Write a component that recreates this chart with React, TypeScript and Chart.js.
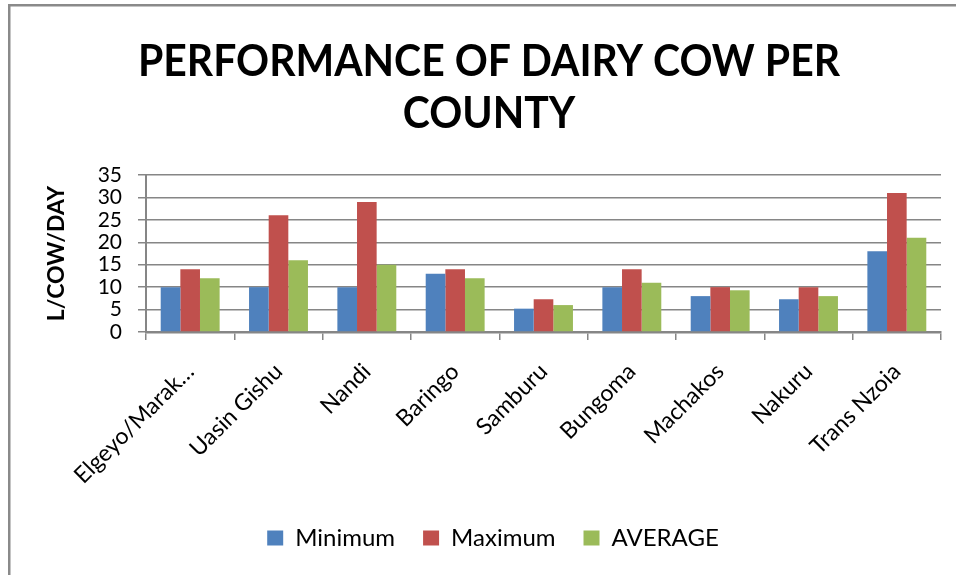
import React, { useEffect, useRef } from "react";
import { Chart, registerables } from "chart.js";

Chart.register(...registerables);

const categories = [
  "Elgeyo/Marak…",
  "Uasin Gishu",
  "Nandi",
  "Baringo",
  "Samburu",
  "Bungoma",
  "Machakos",
  "Nakuru",
  "Trans Nzoia",
];
const minimumValues = [10, 10, 10, 13, 5.2, 10, 8, 7.3, 18];
const maximumValues = [14, 26, 29, 14, 7.3, 14, 10, 10, 31];
const averageValues = [12, 16, 15, 12, 6, 11, 9.3, 8, 21];
const seriesNames = ["Minimum", "Maximum", "AVERAGE"];
const titleLines = ["PERFORMANCE OF DAIRY COW PER", "COUNTY"];
const yAxisTitle = "L/COW/DAY";
const yTicks = [0, 5, 10, 15, 20, 25, 30, 35];

const FONT = "Lato, 'Open Sans', sans-serif";
const GRID = "#868686";

const framePlugin = {
  id: "frameAndTitle",
  beforeDraw(chart: any) {
    const ctx = chart.ctx as CanvasRenderingContext2D;
    ctx.save();
    ctx.fillStyle = "#ffffff";
    ctx.fillRect(0, 0, chart.width, chart.height);
    ctx.strokeStyle = "#8a8a8a";
    ctx.lineWidth = 2.5;
    ctx.beginPath();
    ctx.moveTo(9.25, chart.height);
    ctx.lineTo(9.25, 5.25);
    ctx.lineTo(chart.width, 5.25);
    ctx.stroke();
    ctx.restore();
  },
  afterDraw(chart: any) {
    const ctx = chart.ctx as CanvasRenderingContext2D;
    ctx.save();
    ctx.font = `bold 43px ${FONT}`;
    ctx.fillStyle = "#000000";
    ctx.textAlign = "center";
    ctx.textBaseline = "alphabetic";
    const w = ctx.measureText(titleLines[0]).width;
    const sx = 702 / w;
    const baselines = [76, 128];
    titleLines.forEach((line, i) => {
      ctx.save();
      ctx.translate(489, baselines[i]);
      ctx.scale(sx, 1);
      ctx.fillText(line, 0, 0);
      ctx.restore();
    });
    ctx.restore();
  },
};

export default function App() {
  const ref = useRef<HTMLCanvasElement | null>(null);

  useEffect(() => {
    if (!ref.current) return;
    const chart = new Chart(ref.current, {
      type: "bar",
      data: {
        labels: categories,
        datasets: [
          { label: seriesNames[0], data: minimumValues, backgroundColor: "#4F81BD" },
          { label: seriesNames[1], data: maximumValues, backgroundColor: "#C0504D" },
          { label: seriesNames[2], data: averageValues, backgroundColor: "#9BBB59" },
        ],
      },
      options: {
        animation: false,
        responsive: false,
        maintainAspectRatio: false,
        datasets: {
          bar: { categoryPercentage: 0.667, barPercentage: 1.0 },
        },
        layout: { padding: { top: 175, right: 15, bottom: 15, left: 45 } },
        plugins: {
          title: { display: false },
          tooltip: { enabled: false },
          legend: {
            position: "bottom",
            labels: {
              font: { family: FONT, size: 24 },
              color: "#000000",
              boxWidth: 16,
              boxHeight: 15,
              padding: 28,
            },
          },
        },
        scales: {
          x: {
            grid: {
              display: true,
              drawOnChartArea: false,
              drawTicks: true,
              tickLength: 8,
              color: GRID,
              lineWidth: 1.5,
              offset: true,
            },
            border: { display: true, color: GRID, width: 2.5 },
            ticks: {
              font: { family: FONT, size: 23 },
              color: "#000000",
              maxRotation: 45,
              minRotation: 45,
              padding: 18,
              autoSkip: false,
            },
            afterFit: (scale: any) => {
              scale.height = 166;
            },
          },
          y: {
            min: 0,
            max: 35,
            afterBuildTicks: (scale: any) => {
              scale.ticks = yTicks.map((v) => ({ value: v }));
            },
            grid: {
              color: GRID,
              lineWidth: 1.5,
              tickLength: 8,
              drawTicks: true,
            },
            border: { display: true, color: GRID, width: 2 },
            ticks: {
              font: { family: FONT, size: 21, lineHeight: 1 },
              color: "#000000",
              padding: 16,
              autoSkip: false,
              stepSize: 5,
            },
            title: {
              display: true,
              text: yAxisTitle,
              font: { family: FONT, size: 23, weight: "bold", lineHeight: 1 },
              color: "#000000",
              padding: { top: 0, bottom: 0 },
            },
            afterFit: (scale: any) => {
              scale.width = 101;
            },
          },
        },
      },
      plugins: [framePlugin],
    });
    return () => chart.destroy();
  }, []);

  return (
    <div style={{ position: "fixed", left: 0, top: 0, width: 956, height: 575, background: "#fff" }}>
      <canvas ref={ref} width={956} height={575} style={{ width: 956, height: 575, display: "block" }} />
    </div>
  );
}
